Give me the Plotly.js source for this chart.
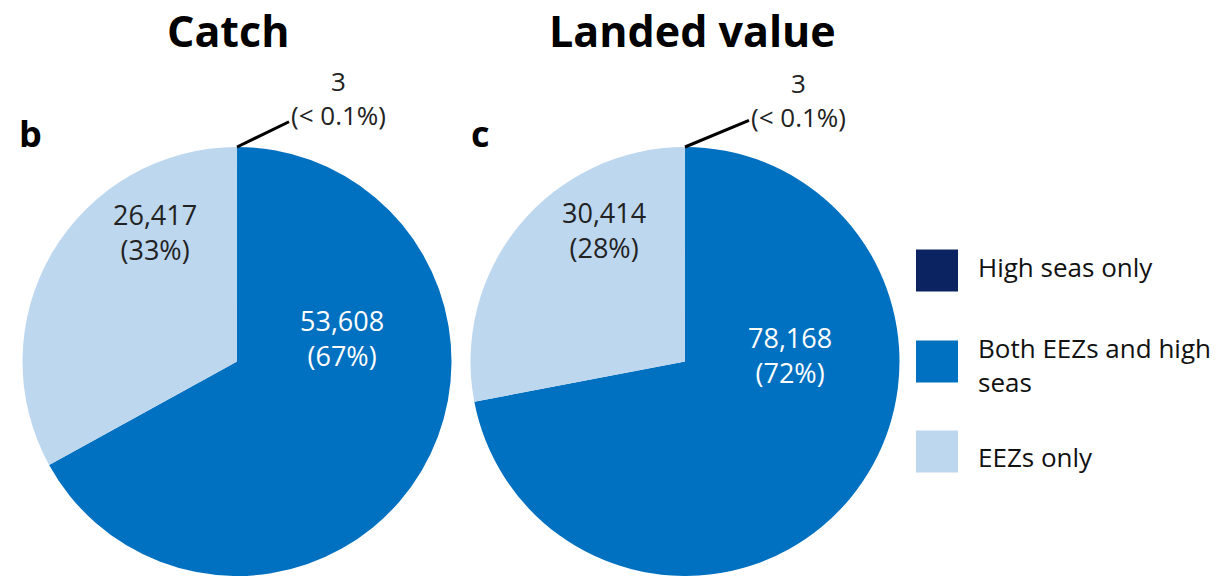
<!DOCTYPE html>
<html><head><meta charset="utf-8">
<script src="https://cdn.plot.ly/plotly-3.0.1.min.js"></script>
<style>html,body{margin:0;padding:0;background:#fff}#chart{width:1228px;height:576px}</style>
</head><body><div id="chart"></div>
<script>
const categories = ['High seas only', 'Both EEZs and high seas', 'EEZs only'];
const legendLabels = ['High seas only', 'Both EEZs and high<br>seas', 'EEZs only'];
const catchValues = [3, 53608, 26417];
const landedValues = [3, 78168, 30414];
const sliceColors = ['#0b2360', '#0070c0', '#bdd7ee'];
const panelTitles = ['Catch', 'Landed value'];
const panelLetters = ['b', 'c'];

const W = 1228, H = 576;
const FONT = '"Open Sans", sans-serif';
const px = x => x / W;
const py = y => 1 - y / H;

function pctText(v, total) {
  const p = v / total * 100;
  return p < 0.1 ? '< 0.1%' : Math.round(p) + '%';
}
function fmt(v) { return v.toLocaleString('en-US'); }

const panels = [
  {values: catchValues, x0: 22, x1: 452, title: panelTitles[0], letter: panelLetters[0], titleX: 228, letterX: 30,
   pos: [[338, 98], [342, 338], [155, 232]]},
  {values: landedValues, x0: 470, x1: 900, title: panelTitles[1], letter: panelLetters[1], titleX: 692, letterX: 480,
   pos: [[798, 100], [790, 355], [604, 230]]}
];
const pieTop = 147, pieBottom = 577;

const traces = [];
const annotations = [];
const shapes = [];

panels.forEach(p => {
  traces.push({
    type: 'pie',
    labels: categories,
    values: p.values,
    sort: false,
    direction: 'clockwise',
    rotation: 0,
    textinfo: 'none',
    hoverinfo: 'label+value+percent',
    marker: {colors: sliceColors, line: {width: 0}},
    domain: {x: [px(p.x0), px(p.x1)], y: [py(pieBottom), py(pieTop)]},
    showlegend: false
  });
  const total = p.values.reduce((a, b) => a + b, 0);
  const cx = (p.x0 + p.x1) / 2;
  p.values.forEach((v, i) => {
    const txt = fmt(v) + '<br>(' + pctText(v, total) + ')';
    const [tx, ty] = p.pos[i];
    if (i === 0) {
      annotations.push({
        xref: 'paper', yref: 'paper', x: px(cx), y: py(pieTop),
        ax: tx - cx, ay: ty - pieTop, axref: 'pixel', ayref: 'pixel',
        text: txt, showarrow: true, arrowhead: 0, arrowwidth: 3, arrowcolor: '#000',
        font: {family: FONT, size: 26, color: '#222'}, align: 'center'
      });
    } else {
      annotations.push({
        xref: 'paper', yref: 'paper', x: px(tx), y: py(ty), xanchor: 'center', yanchor: 'middle',
        text: txt, showarrow: false, align: 'center',
        font: {family: FONT, size: 27, color: i === 1 ? '#ffffff' : '#222'}
      });
    }
  });
  annotations.push({
    xref: 'paper', yref: 'paper', x: px(p.titleX), y: 1, xanchor: 'center', yanchor: 'top',
    text: '<b>' + p.title + '</b>', showarrow: false, borderpad: 0,
    font: {family: FONT, size: 43, color: '#000'}
  });
  annotations.push({
    xref: 'paper', yref: 'paper', x: px(p.letterX), y: py(133), xanchor: 'center', yanchor: 'middle',
    text: '<b>' + p.letter + '</b>', showarrow: false,
    font: {family: FONT, size: 36, color: '#000'}
  });
});

// Legend
const legY = [270.5, 361.5, 451.5];
const legTextY = [267, 365, 457];
categories.forEach((c, i) => {
  shapes.push({
    type: 'rect', xref: 'paper', yref: 'paper',
    x0: px(916), x1: px(958), y0: py(legY[i] + 21), y1: py(legY[i] - 21),
    fillcolor: sliceColors[i], line: {width: 0}
  });
  annotations.push({
    xref: 'paper', yref: 'paper', x: px(976), y: py(legTextY[i]), xanchor: 'left', yanchor: 'middle',
    text: legendLabels[i], showarrow: false, align: 'left',
    font: {family: FONT, size: 26, color: '#111'}
  });
});

Plotly.newPlot('chart', traces, {
  width: W, height: H,
  margin: {l: 0, r: 0, t: 0, b: 0},
  paper_bgcolor: '#fff',
  showlegend: false,
  annotations: annotations,
  shapes: shapes
}, {displayModeBar: false});
</script></body></html>
